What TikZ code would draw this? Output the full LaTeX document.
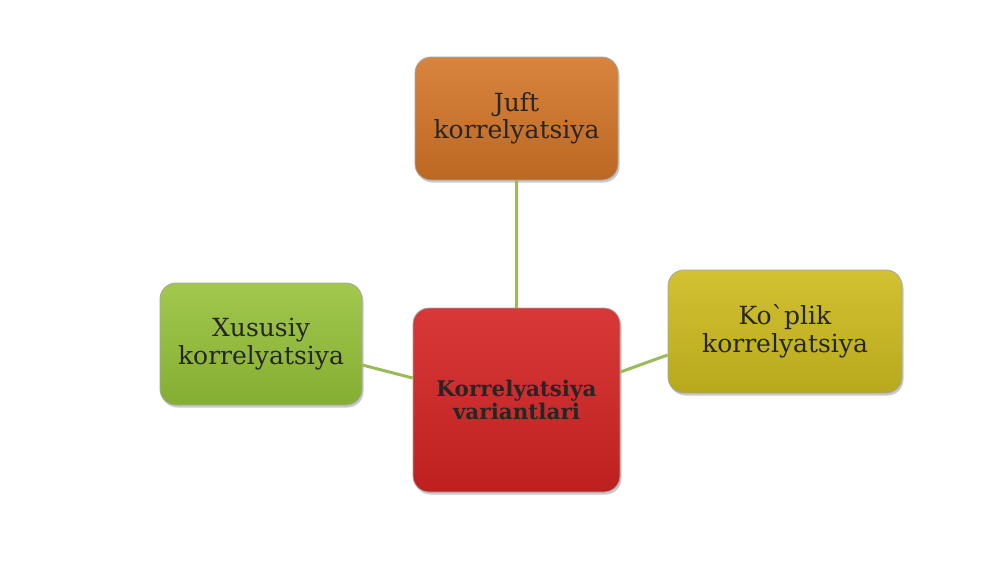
\documentclass[tikz,border=0pt]{standalone}
\usepackage{fontspec}
\setmainfont{DejaVu Serif}[Ligatures=TeXOff]
\usetikzlibrary{shadows}
\definecolor{conn}{HTML}{9BBB59}
\definecolor{orA}{HTML}{D8843E}\definecolor{orB}{HTML}{BC6822}
\definecolor{grA}{HTML}{A2C84E}\definecolor{grB}{HTML}{84AE32}
\definecolor{yeA}{HTML}{D2C232}\definecolor{yeB}{HTML}{B8A81C}
\definecolor{reA}{HTML}{D83838}\definecolor{reB}{HTML}{BE2020}
\tikzset{
  boxbase/.style={rounded corners=16pt, draw=black!35, line width=0.8pt,
    align=center, inner sep=0pt, text=black!85,
    drop shadow={shadow xshift=1.5pt, shadow yshift=-2.5pt, opacity=0.35, fill=black!60}},
  sidetext/.style={font=\fontsize{25}{27.5}\selectfont},
  centertext/.style={font=\bfseries\fontsize{21.5}{23}\selectfont},
  link/.style={draw=conn, line width=3pt}
}
\begin{document}
\begin{tikzpicture}[x=1pt,y=-1pt]
\useasboundingbox (0,0) rectangle (1000,562);
\fill[white] (0,0) rectangle (1000,562);
\node[boxbase, sidetext, top color=orA, bottom color=orB, minimum width=203pt, minimum height=123pt] (juft) at (516.5,118.5) {Juft\\korrelyatsiya};
\node[boxbase, sidetext, top color=grA, bottom color=grB, minimum width=202pt, minimum height=122pt] (xus) at (261,344) {Xususiy\\korrelyatsiya};
\node[boxbase, sidetext, top color=yeA, bottom color=yeB, minimum width=234pt, minimum height=123pt] (kop) at (785,331.5) {Ko`plik\\korrelyatsiya};
\node[boxbase, centertext, top color=reA, bottom color=reB, minimum width=207pt, minimum height=184pt] (var) at (516.5,400) {Korrelyatsiya\\variantlari};
\draw[link] (juft.south) -- (var.north);
\draw[link] ([yshift=-21pt]xus.east) -- ([yshift=22pt]var.west);
\draw[link] ([yshift=28pt]var.east) -- ([yshift=-23.5pt]kop.west);
\end{tikzpicture}
\end{document}
